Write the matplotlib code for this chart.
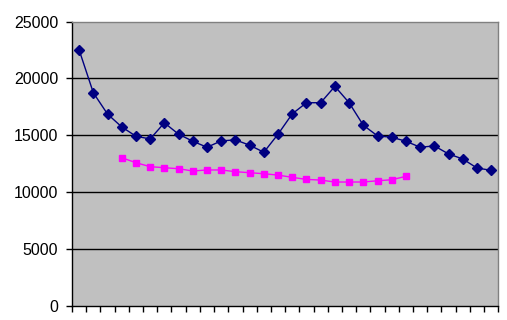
import numpy as np
import matplotlib
matplotlib.use("Agg")
import matplotlib.pyplot as plt

plt.rcParams['font.family'] = ['Liberation Sans', 'DejaVu Sans']

categories = list(range(1, 31))
series_blue = [22500, 18730, 16850, 15720, 14900, 14660, 16080, 15080, 14460, 13930,
               14490, 14580, 14110, 13490, 15080, 16870, 17850, 17850, 19290, 17850,
               15870, 14930, 14810, 14460, 13930, 14050, 13340, 12900, 12100, 11900]
series_pink = [None, None, None, 13010, 12570, 12220, 12130, 12040, 11840, 11930,
               11930, 11780, 11690, 11600, 11480, 11280, 11100, 11040, 10870, 10870,
               10870, 10980, 11070, 11370, None, None, None, None, None, None]
y_ticks = [0, 5000, 10000, 15000, 20000, 25000]

fig = plt.figure(figsize=(5.07, 3.2), dpi=100)
ax = fig.add_axes([72/507, 1 - 305.5/320, (498.3-72)/507, (305.5-21.5)/320])
ax.set_facecolor('#C0C0C0')

x = np.arange(len(categories))
yb = np.array(series_blue, dtype=float)
yp = np.array([np.nan if v is None else v for v in series_pink], dtype=float)

for v in y_ticks[1:-1]:
    ax.axhline(v, color='black', lw=1.0, zorder=1)

ax.plot(x, yb, color='#000080', lw=1.0, marker='D', markersize=5,
        markerfacecolor='#000080', markeredgecolor='#000080', zorder=3)
ax.plot(x, yp, color='#FF00FF', lw=1.0, marker='s', markersize=4.8,
        markerfacecolor='#FF00FF', markeredgecolor='#FF00FF', zorder=3)

ax.set_xlim(-0.5, len(categories) - 0.5)
ax.set_ylim(0, 25000)
ax.set_yticks(y_ticks)
ax.set_yticklabels([str(v) for v in y_ticks], fontsize=11.5)
ax.set_xticks(np.arange(-0.5, len(categories), 1.0))
ax.set_xticklabels([])
ax.tick_params(axis='both', direction='out', length=4, width=1, color='black', pad=3)
ax.tick_params(axis='y', pad=6)

for side in ['left', 'bottom']:
    ax.spines[side].set_color('black')
    ax.spines[side].set_linewidth(1.0)
for side in ['top', 'right']:
    ax.spines[side].set_color('#808080')
    ax.spines[side].set_linewidth(1.0)

fig.savefig('out.png', dpi=100)
